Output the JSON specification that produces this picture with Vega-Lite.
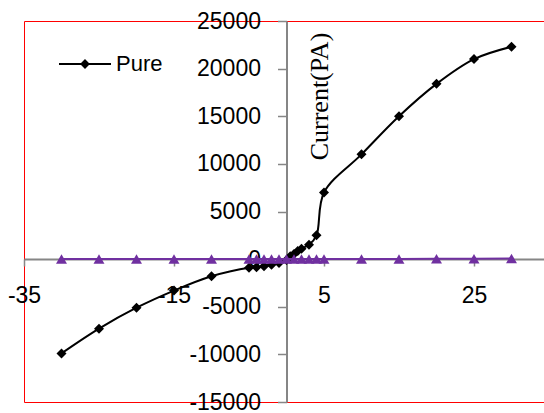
{
  "$schema": "https://vega.github.io/schema/vega-lite/v6.json",
  "width": 520,
  "height": 381,
  "autosize": {"type": "none"},
  "padding": {"left": 24, "top": 21, "right": 0, "bottom": 11},
  "background": "#ffffff",
  "config": {
    "view": {"stroke": "#FF0000", "strokeWidth": 1},
    "font": "Liberation Sans"
  },
  "datasets": {
    "pure": [
      {"series": "Pure", "x": -30, "y": -9900},
      {"series": "Pure", "x": -25, "y": -7300},
      {"series": "Pure", "x": -20, "y": -5100},
      {"series": "Pure", "x": -15, "y": -3300},
      {"series": "Pure", "x": -10, "y": -1800},
      {"series": "Pure", "x": -5, "y": -900},
      {"series": "Pure", "x": -4, "y": -850},
      {"series": "Pure", "x": -3, "y": -750},
      {"series": "Pure", "x": -2, "y": -600},
      {"series": "Pure", "x": -1, "y": -400},
      {"series": "Pure", "x": 0, "y": -100},
      {"series": "Pure", "x": 0.5, "y": 300},
      {"series": "Pure", "x": 1, "y": 550},
      {"series": "Pure", "x": 1.5, "y": 850},
      {"series": "Pure", "x": 2, "y": 1100},
      {"series": "Pure", "x": 3, "y": 1500},
      {"series": "Pure", "x": 4, "y": 2500},
      {"series": "Pure", "x": 5, "y": 7000},
      {"series": "Pure", "x": 10, "y": 11000},
      {"series": "Pure", "x": 15, "y": 15000},
      {"series": "Pure", "x": 20, "y": 18400},
      {"series": "Pure", "x": 25, "y": 21000},
      {"series": "Pure", "x": 30, "y": 22300}
    ],
    "other": [
      {"series": "Series 2", "x": -30, "y": 10},
      {"series": "Series 2", "x": -25, "y": 10},
      {"series": "Series 2", "x": -20, "y": 10},
      {"series": "Series 2", "x": -15, "y": 10},
      {"series": "Series 2", "x": -10, "y": 10},
      {"series": "Series 2", "x": -5, "y": 10},
      {"series": "Series 2", "x": -4, "y": 10},
      {"series": "Series 2", "x": -3, "y": 10},
      {"series": "Series 2", "x": -2, "y": 10},
      {"series": "Series 2", "x": -1, "y": 10},
      {"series": "Series 2", "x": 0, "y": 10},
      {"series": "Series 2", "x": 1, "y": 10},
      {"series": "Series 2", "x": 2, "y": 10},
      {"series": "Series 2", "x": 3, "y": 10},
      {"series": "Series 2", "x": 4, "y": 10},
      {"series": "Series 2", "x": 5, "y": 10},
      {"series": "Series 2", "x": 10, "y": 20},
      {"series": "Series 2", "x": 15, "y": 20},
      {"series": "Series 2", "x": 20, "y": 30},
      {"series": "Series 2", "x": 25, "y": 40},
      {"series": "Series 2", "x": 30, "y": 60}
    ]
  },
  "encoding": {
    "x": {
      "field": "x",
      "type": "quantitative",
      "scale": {"domain": [-35, 34.3333], "nice": false, "zero": false},
      "axis": {
        "orient": "bottom",
        "offset": -143,
        "values": [-35, -15, 5, 25],
        "labelExpr": "datum.value + ''",
        "title": null,
        "grid": false,
        "domainColor": "#868686",
        "domainWidth": 2,
        "tickColor": "#868686",
        "tickWidth": 1.5,
        "tickSize": 7,
        "labelPadding": 29,
        "labelBaseline": "middle",
        "labelFont": "Liberation Sans",
        "labelFontSize": 23,
        "labelColor": "#000000",
        "labelFlush": false,
        "labelOverlap": false
      }
    },
    "y": {
      "field": "y",
      "type": "quantitative",
      "scale": {"domain": [-15000, 25000], "nice": false, "zero": false},
      "axis": {
        "orient": "left",
        "offset": -262.5,
        "values": [-15000, -10000, -5000, 0, 5000, 10000, 15000, 20000, 25000],
        "labelExpr": "datum.value + ''",
        "title": "Current(PA)",
        "titleFont": "Liberation Serif",
        "titleFontSize": 26,
        "titleFontWeight": "normal",
        "titleColor": "#000000",
        "titleAngle": 270,
        "titleAlign": "center",
        "titleBaseline": "alphabetic",
        "titleX": 41,
        "titleY": 75,
        "grid": false,
        "domainColor": "#868686",
        "domainWidth": 2,
        "tickColor": "#868686",
        "tickWidth": 1.5,
        "tickSize": 9,
        "labelPadding": 17,
        "labelBaseline": "middle",
        "labelFont": "Liberation Sans",
        "labelFontSize": 23,
        "labelColor": "#000000",
        "labelFlush": false,
        "labelOverlap": false
      }
    }
  },
  "layer": [
    {
      "data": {"name": "pure"},
      "mark": {"type": "line", "strokeWidth": 2, "interpolate": "catmull-rom"},
      "encoding": {
        "color": {
          "field": "series",
          "type": "nominal",
          "scale": {"domain": ["Pure"], "range": ["#000000"]},
          "legend": {
            "orient": "none",
            "legendX": 34,
            "legendY": 16,
            "title": null,
            "padding": 0,
            "symbolType": "M-1,0H1M0,-0.135L0.135,0L0,0.135L-0.135,0Z",
            "symbolSize": 2704,
            "symbolStrokeWidth": 2,
            "symbolFillColor": "#000000",
            "symbolStrokeColor": "#000000",
            "labelFont": "Liberation Sans",
            "labelFontSize": 22,
            "labelColor": "#000000",
            "labelOffset": 4,
            "encode": {
              "symbols": {
                "update": {
                  "stroke": {"value": "#000000"},
                  "fill": {"value": "#000000"},
                  "strokeWidth": {"value": 2},
                  "opacity": {"value": 1}
                }
              }
            }
          }
        }
      }
    },
    {
      "data": {"name": "pure"},
      "mark": {"type": "point", "shape": "diamond", "filled": true, "size": 100, "color": "#000000", "opacity": 1},
      "encoding": {}
    },
    {
      "data": {"name": "other"},
      "mark": {"type": "line", "color": "#7030A0", "strokeWidth": 2},
      "encoding": {}
    },
    {
      "data": {"name": "other"},
      "mark": {"type": "point", "shape": "triangle-up", "filled": true, "size": 120, "color": "#7030A0", "opacity": 1},
      "encoding": {}
    }
  ]
}
